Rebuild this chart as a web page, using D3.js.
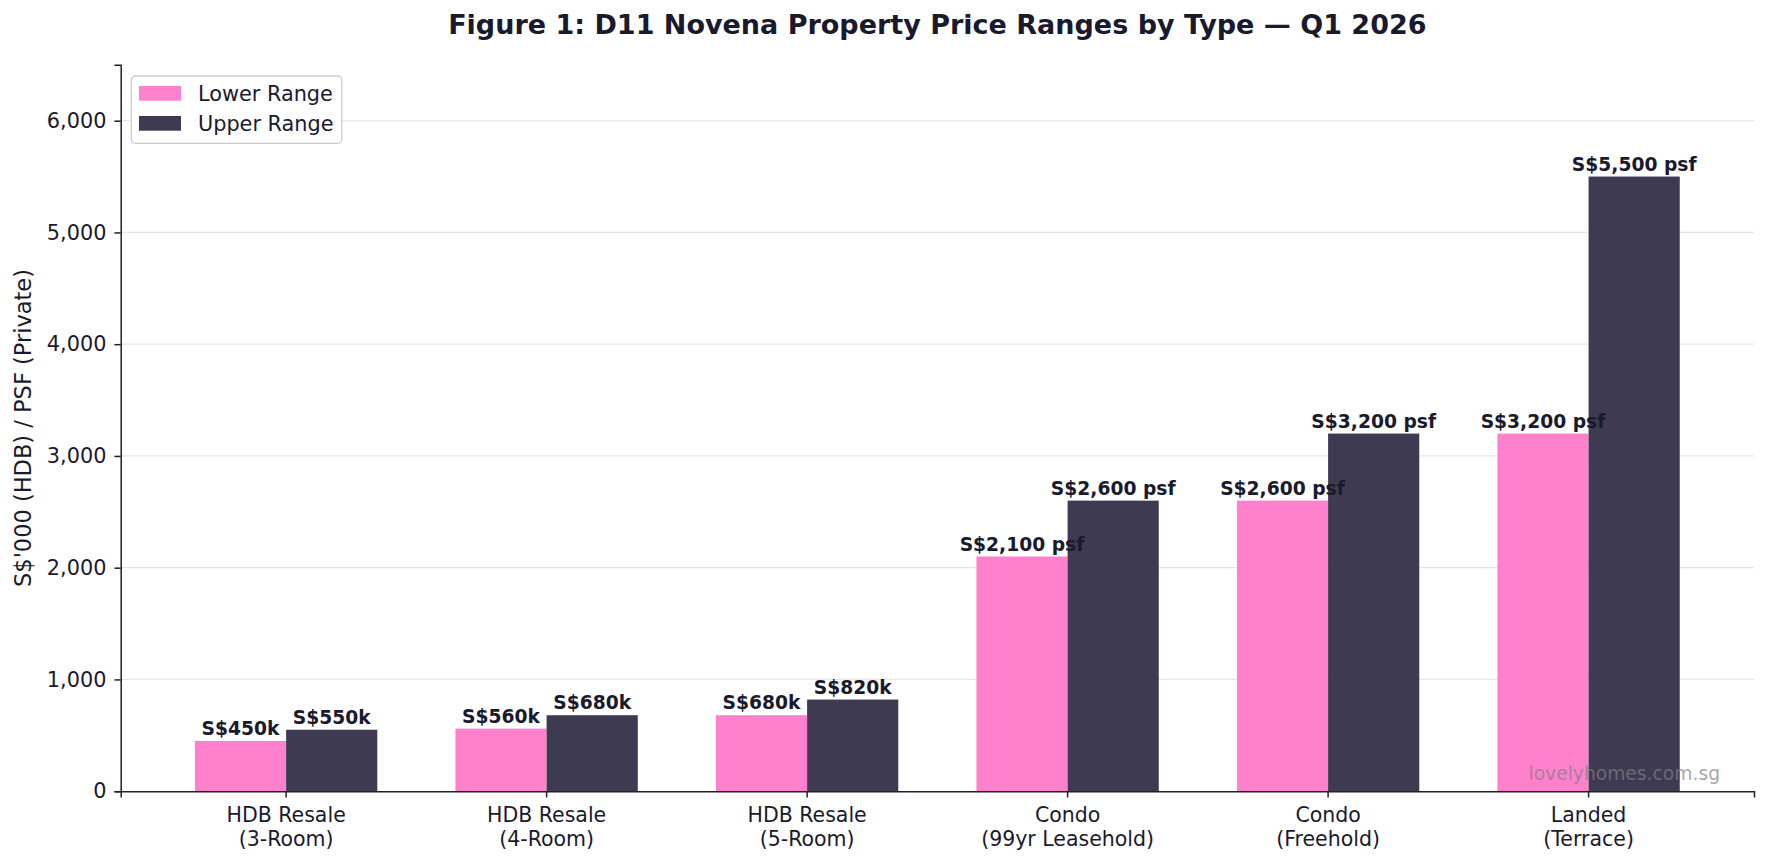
<!DOCTYPE html>
<html>
<head>
<meta charset="utf-8">
<script src="https://cdn.jsdelivr.net/npm/d3@7"></script>
<style>
  html, body { margin: 0; padding: 0; background: #ffffff; }
  svg { display: block; font-family: "DejaVu Sans", sans-serif; }
</style>
</head>
<body>
<svg id="chart" width="1768" height="864"></svg>
<script>
// ---- data ----
const categories = [
  ["HDB Resale", "(3-Room)"],
  ["HDB Resale", "(4-Room)"],
  ["HDB Resale", "(5-Room)"],
  ["Condo", "(99yr Leasehold)"],
  ["Condo", "(Freehold)"],
  ["Landed", "(Terrace)"]
];
const lowerValues = [450, 560, 680, 2100, 2600, 3200];
const upperValues = [550, 680, 820, 2600, 3200, 5500];
const lowerLabels = ["S$450k", "S$560k", "S$680k", "S$2,100 psf", "S$2,600 psf", "S$3,200 psf"];
const upperLabels = ["S$550k", "S$680k", "S$820k", "S$2,600 psf", "S$3,200 psf", "S$5,500 psf"];
const seriesNames = ["Lower Range", "Upper Range"];
const yTicks = [0, 1000, 2000, 3000, 4000, 5000, 6000];
const yMax = 6500;
const titleText = "Figure 1: D11 Novena Property Price Ranges by Type \u2014 Q1 2026";
const yLabelText = "S$'000 (HDB) / PSF (Private)";
const watermarkText = "lovelyhomes.com.sg";

// ---- styles ----
const colors = ["#ff80cc", "#3d3a51"];
const textColor = "#1a1a2e";
const FONT = "DejaVu Sans";
const margin = { left: 120.7, right: 1754, top: 64.8, bottom: 791.2 };

const svg = d3.select("#chart");

const idx = categories.map((d, i) => i);
const x = d3.scaleBand()
  .domain(idx)
  .range([margin.left, margin.right])
  .paddingInner(0.3)
  .paddingOuter(0.285);
const sub = d3.scaleBand().domain([0, 1]).range([0, x.bandwidth()]);
const y = d3.scaleLinear().domain([0, yMax]).range([margin.bottom, margin.top]);

// grid
svg.append("g").selectAll("line")
  .data(yTicks.filter(t => t > 0))
  .join("line")
  .attr("x1", margin.left).attr("x2", margin.right)
  .attr("y1", d => y(d)).attr("y2", d => y(d))
  .attr("stroke", "#e6e6e6").attr("stroke-width", 1.3);

// bars
const series = [lowerValues, upperValues];
const labels = [lowerLabels, upperLabels];
series.forEach((vals, s) => {
  svg.append("g").selectAll("rect")
    .data(vals)
    .join("rect")
    .attr("x", (d, i) => x(i) + sub(s))
    .attr("width", sub.bandwidth())
    .attr("y", d => y(d))
    .attr("height", d => y(0) - y(d))
    .attr("fill", colors[s]);
});
series.forEach((vals, s) => {
  svg.append("g").selectAll("text")
    .data(vals)
    .join("text")
    .attr("x", (d, i) => x(i) + sub(s) + sub.bandwidth() / 2)
    .attr("y", d => y(d) - 6)
    .attr("text-anchor", "middle")
    .attr("font-family", FONT)
    .attr("font-size", "18.7px")
    .attr("font-weight", "bold")
    .attr("fill", textColor)
    .text((d, i) => labels[s][i]);
});

// y axis
const yAxis = d3.axisLeft(y)
  .tickValues(yTicks)
  .tickFormat(d3.format(","))
  .tickSize(6.3)
  .tickPadding(8);
const gy = svg.append("g")
  .attr("transform", `translate(${margin.left},0)`)
  .call(yAxis)
  .attr("font-family", FONT);
gy.select(".domain").attr("stroke", "#222").attr("stroke-width", 1.5);
gy.selectAll(".tick line").attr("stroke", "#222").attr("stroke-width", 1.5);
gy.selectAll(".tick text")
  .attr("font-size", "20.8px")
  .attr("font-family", FONT)
  .attr("fill", textColor);

// x axis
const xAxis = d3.axisBottom(x).tickSize(6.3).tickFormat(() => "");
const gx = svg.append("g")
  .attr("transform", `translate(0,${margin.bottom})`)
  .call(xAxis)
  .attr("font-family", FONT);
gx.select(".domain").attr("stroke", "#222").attr("stroke-width", 1.5);
gx.selectAll(".tick line").attr("stroke", "#222").attr("stroke-width", 1.5);
gx.selectAll(".tick").each(function(d) {
  const t = d3.select(this).append("text")
    .attr("text-anchor", "middle")
    .attr("font-family", FONT)
    .attr("font-size", "20.5px")
    .attr("fill", textColor);
  t.append("tspan").attr("x", 0).attr("y", 31).text(categories[d][0]);
  t.append("tspan").attr("x", 0).attr("y", 54.5).text(categories[d][1]);
});

// title
svg.append("text")
  .attr("x", (margin.left + margin.right) / 2)
  .attr("y", 34)
  .attr("text-anchor", "middle")
  .attr("font-family", FONT)
  .attr("font-size", "27px")
  .attr("font-weight", "bold")
  .attr("fill", textColor)
  .text(titleText);

// y label
svg.append("text")
  .attr("transform", `translate(31,${(margin.top + margin.bottom) / 2}) rotate(-90)`)
  .attr("text-anchor", "middle")
  .attr("font-family", FONT)
  .attr("font-size", "22.5px")
  .attr("fill", textColor)
  .text(yLabelText);

// legend
const lg = svg.append("g");
lg.append("rect")
  .attr("x", 131.3).attr("y", 76)
  .attr("width", 210.5).attr("height", 67.3)
  .attr("rx", 4)
  .attr("fill", "#ffffff").attr("fill-opacity", 0.8)
  .attr("stroke", "#cccccc").attr("stroke-width", 1.3);
seriesNames.forEach((name, i) => {
  lg.append("rect")
    .attr("x", 139).attr("y", 86 + i * 30)
    .attr("width", 42).attr("height", 14.7)
    .attr("fill", colors[i]);
  lg.append("text")
    .attr("x", 198).attr("y", 100.5 + i * 30)
    .attr("font-family", FONT)
    .attr("font-size", "20.8px")
    .attr("fill", textColor)
    .text(name);
});

// watermark
svg.append("text")
  .attr("x", 1720).attr("y", 780)
  .attr("text-anchor", "end")
  .attr("font-family", FONT)
  .attr("font-size", "18.7px")
  .attr("fill", "#808080")
  .attr("fill-opacity", 0.7)
  .text(watermarkText);
</script>
</body>
</html>
